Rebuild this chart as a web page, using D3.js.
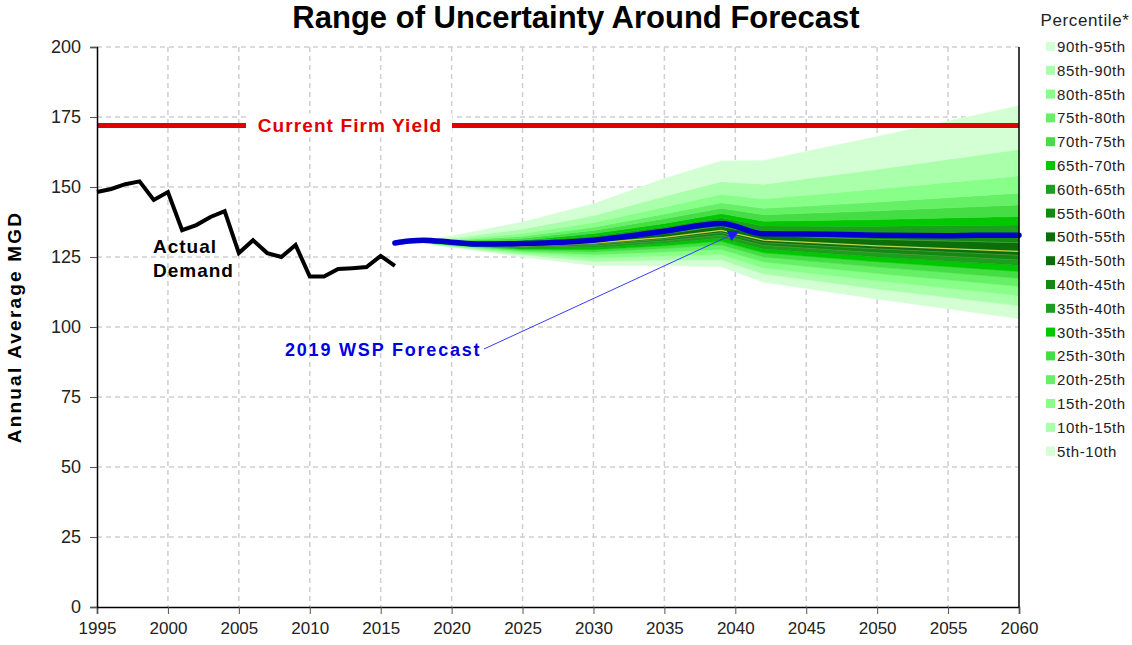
<!DOCTYPE html>
<html lang="en">
<head>
<meta charset="utf-8">
<title>Range of Uncertainty Around Forecast</title>
<script src="https://cdn.jsdelivr.net/npm/d3@7"></script>
<style>
  body { margin: 0; background: #fff; }
  svg text { font-family: "Liberation Sans", Arial, sans-serif; }
</style>
</head>
<body>
<div id="chart"></div>
<script>
// actual demand, 1995-2016
var actualYears = d3.range(1995, 2017);
var actualDemand = [148.2, 149.3, 151, 152, 145.4, 148.2, 134.6, 136.4, 139.3, 141.4, 126.4,
  131, 126.4, 125, 129.3, 118, 118, 120.7, 121, 121.4, 125.4, 121.8];

// 2019 WSP forecast
var forecastYears = [2016, 2017, 2018, 2020, 2022, 2025, 2030, 2035, 2039, 2042, 2045, 2050, 2055, 2057, 2060];
var forecastWSP = [130, 130.7, 131, 130.3, 129.6, 129.8, 131, 134.2, 137, 133.3, 133.2, 132.8, 132.6, 132.8, 132.8];

var firmYield = 172;

// percentile fan, read at these years
var fanYears = [2016, 2018, 2020, 2025, 2030, 2035, 2039, 2042, 2050, 2060];
var p05 = [130, 130.0, 128.5, 125.0, 122.0, 122.0, 121.5, 116.0, 110.0, 103.0];
var p10 = [130, 130.1, 128.7, 125.8, 123.5, 123.9, 124.0, 118.9, 113.6, 107.6];
var p15 = [130, 130.2, 128.9, 126.4, 124.7, 125.4, 125.9, 121.1, 116.5, 111.2];
var p20 = [130, 130.2, 129.1, 126.9, 125.8, 126.8, 127.7, 123.2, 119.1, 114.5];
var p25 = [130, 130.3, 129.3, 127.4, 126.8, 128.0, 129.3, 125.0, 121.4, 117.4];
var p30 = [130, 130.4, 129.4, 127.8, 127.6, 129.0, 130.6, 126.5, 123.3, 119.8];
var p35 = [130, 130.4, 129.5, 128.2, 128.3, 129.9, 131.8, 127.9, 125.0, 122.0];
var p40 = [130, 130.4, 129.6, 128.5, 129.0, 130.7, 132.8, 129.1, 126.5, 123.9];
var p45 = [130, 130.5, 129.7, 128.8, 129.5, 131.4, 133.7, 130.1, 127.9, 125.6];
var p50 = [130, 130.5, 129.8, 129.0, 130.0, 132.0, 134.5, 131.0, 129.0, 127.0];
var p55 = [130, 130.5, 130.0, 129.5, 130.8, 133.3, 136.0, 132.7, 131.3, 130.1];
var p60 = [130, 130.6, 130.1, 129.9, 131.5, 134.3, 137.2, 134.1, 133.3, 132.7];
var p65 = [130, 130.6, 130.3, 130.5, 132.5, 135.8, 139.0, 136.1, 136.0, 136.4];
var p70 = [130, 130.6, 130.4, 131.0, 133.4, 137.0, 140.5, 137.8, 138.4, 139.5];
var p75 = [130, 130.7, 130.7, 131.7, 134.5, 138.7, 142.4, 140.1, 141.5, 143.6];
var p80 = [130, 130.7, 130.9, 132.4, 135.6, 140.4, 144.4, 142.4, 144.6, 147.8];
var p85 = [130, 130.8, 131.2, 133.4, 137.3, 142.9, 147.4, 145.8, 149.3, 154.0];
var p90 = [130, 130.9, 131.7, 135.0, 139.8, 146.7, 151.9, 151.0, 156.3, 163.4];
var p95 = [130, 131.0, 132.5, 137.5, 144.0, 153.0, 159.3, 159.5, 168.0, 179.0];

var bandLabels = ["5th-10th", "10th-15th", "15th-20th", "20th-25th", "25th-30th", "30th-35th",
  "35th-40th", "40th-45th", "45th-50th", "50th-55th", "55th-60th", "60th-65th", "65th-70th",
  "70th-75th", "75th-80th", "80th-85th", "85th-90th", "90th-95th"];
var bandColors = ["#d4ffd4", "#aaffaa", "#88ff88", "#66f066", "#44dd44", "#00c800",
  "#1aa01a", "#128a12", "#0a6e0a", "#0a6e0a", "#128a12", "#1aa01a", "#00c800",
  "#44dd44", "#66f066", "#88ff88", "#aaffaa", "#d4ffd4"];

var xTicks = d3.range(1995, 2061, 5);
var yTicks = d3.range(0, 201, 25);

var W = 1132, H = 645;
var svg = d3.select("#chart").append("svg").attr("width", W).attr("height", H);

var x = d3.scaleLinear().domain([1995, 2060]).range([97, 1019]);
var y = d3.scaleLinear().domain([0, 200]).range([607, 47]);

// grid
svg.append("g").selectAll("line").data(xTicks.slice(1, -1)).enter().append("line")
  .attr("x1", d => x(d)).attr("x2", d => x(d)).attr("y1", y(200)).attr("y2", y(0))
  .attr("stroke", "#cfcfcf").attr("stroke-width", 1.5).attr("stroke-dasharray", "5,4");
svg.append("g").selectAll("line").data(yTicks.slice(1)).enter().append("line")
  .attr("x1", x(1995)).attr("x2", x(2060)).attr("y1", d => y(d)).attr("y2", d => y(d))
  .attr("stroke", "#cfcfcf").attr("stroke-width", 1.5).attr("stroke-dasharray", "5,4");

// fan bands
var pcts = [p05, p10, p15, p20, p25, p30, p35, p40, p45, p50, p55, p60, p65, p70, p75, p80, p85, p90, p95];
var area = d3.area().x(d => x(d.yr)).y0(d => y(d.lo)).y1(d => y(d.hi));
var fan = svg.append("g");
for (var i = 0; i < pcts.length - 1; i++) {
  var pts = fanYears.map((yr, j) => ({ yr: yr, lo: pcts[i][j], hi: pcts[i + 1][j] }));
  fan.append("path").datum(pts).attr("d", area).attr("fill", bandColors[i])
    .attr("stroke", bandColors[i]).attr("stroke-width", 0.5);
}
var line = d3.line().x(d => x(d[0])).y(d => y(d[1]));
// faint boundary lines in the dark core
[p40, p45, p55, p60].forEach(function (p) {
  fan.append("path").datum(fanYears.map((yr, j) => [yr, p[j]])).attr("d", line)
    .attr("fill", "none").attr("stroke", "#4f9a3f").attr("stroke-width", 0.8);
});
fan.append("path").datum(fanYears.map((yr, j) => [yr, p50[j]])).attr("d", line)
  .attr("fill", "none").attr("stroke", "#c8d24a").attr("stroke-width", 1.3);

// firm yield
svg.append("line").attr("x1", x(1995)).attr("x2", x(2060)).attr("y1", y(firmYield)).attr("y2", y(firmYield))
  .attr("stroke", "#e00000").attr("stroke-width", 5);
svg.append("rect").attr("x", 246).attr("y", y(firmYield) - 12).attr("width", 206).attr("height", 24).attr("fill", "#fff");
svg.append("text").attr("x", 350).attr("y", y(firmYield) + 7).attr("text-anchor", "middle")
  .style("font-size", "19px").style("font-weight", "bold").style("letter-spacing", "1.1px")
  .attr("fill", "#e00000").text("Current Firm Yield");

// actual demand
svg.append("path").datum(actualYears.map((yr, j) => [yr, actualDemand[j]])).attr("d", line)
  .attr("fill", "none").attr("stroke", "#000").attr("stroke-width", 4).attr("stroke-linejoin", "miter");

// forecast
svg.append("path").datum(forecastYears.map((yr, j) => [yr, forecastWSP[j]]))
  .attr("d", d3.line().x(d => x(d[0])).y(d => y(d[1])).curve(d3.curveMonotoneX))
  .attr("fill", "none").attr("stroke", "#0000cc").attr("stroke-width", 5.5).attr("stroke-linecap", "round");

// arrow to forecast
svg.append("defs").append("marker").attr("id", "ah").attr("viewBox", "0 0 10 10")
  .attr("refX", 9).attr("refY", 5).attr("markerWidth", 13).attr("markerHeight", 11)
  .attr("markerUnits", "userSpaceOnUse").attr("orient", "auto")
  .append("path").attr("d", "M0,0L10,5L0,10z").attr("fill", "#1a1aff");
svg.append("line").attr("x1", 484).attr("y1", 349).attr("x2", x(2040.2)).attr("y2", y(134))
  .attr("stroke", "#3a3aff").attr("stroke-width", 1).attr("marker-end", "url(#ah)");

// labels
svg.append("text").attr("x", 153).attr("y", 253).style("font-size", "19px").style("font-weight", "bold")
  .style("letter-spacing", "1px").text("Actual");
svg.append("text").attr("x", 153).attr("y", 277).style("font-size", "19px").style("font-weight", "bold")
  .style("letter-spacing", "1px").text("Demand");
svg.append("text").attr("x", 285).attr("y", 356).style("font-size", "18px").style("font-weight", "bold")
  .style("letter-spacing", "1.8px").attr("fill", "#0000e0").text("2019 WSP Forecast");

// axes
var xAxis = svg.append("g").attr("transform", "translate(0," + y(0) + ")")
  .call(d3.axisBottom(x).tickValues(xTicks).tickFormat(d3.format("d")).tickSize(7).tickPadding(8));
var yAxis = svg.append("g").attr("transform", "translate(" + x(1995) + ",0)")
  .call(d3.axisLeft(y).tickValues(yTicks).tickSize(7).tickPadding(9));
[xAxis, yAxis].forEach(function (g) {
  g.select(".domain").attr("stroke", "#000").attr("stroke-width", 1.5);
  g.selectAll(".tick line").attr("stroke", "#555");
  g.selectAll(".tick text").style("font-size", "18px").attr("fill", "#222")
    .style("font-family", "'Liberation Sans', Arial, sans-serif");
});
xAxis.selectAll(".tick text").style("font-size", "17px");
svg.append("line").attr("x1", x(2060)).attr("x2", x(2060)).attr("y1", y(200)).attr("y2", y(0))
  .attr("stroke", "#000").attr("stroke-width", 1.5);

svg.append("text").attr("transform", "translate(21," + y(100) + ") rotate(-90)")
  .attr("text-anchor", "middle").style("font-size", "19px").style("font-weight", "bold")
  .style("letter-spacing", "2.2px").text("Annual Average MGD");

svg.append("text").attr("x", 576).attr("y", 28).attr("text-anchor", "middle")
  .style("font-size", "31px").style("font-weight", "bold").text("Range of Uncertainty Around Forecast");

// legend
var legend = svg.append("g");
legend.append("text").attr("x", 1085).attr("y", 26).attr("text-anchor", "middle")
  .style("font-size", "17px").style("letter-spacing", "0.6px").attr("fill", "#222").text("Percentile*");
var items = legend.selectAll("g.item").data(d3.range(bandLabels.length - 1, -1, -1)).enter()
  .append("g").attr("transform", (d, k) => "translate(0," + (47 + k * 23.8) + ")");
items.append("rect").attr("x", 1046).attr("y", -5).attr("width", 9).attr("height", 9)
  .attr("fill", d => bandColors[d]);
items.append("text").attr("x", 1057).attr("y", 5).style("font-size", "15px").style("letter-spacing", "0.6px")
  .attr("fill", "#222").text(d => bandLabels[d]);
</script>
</body>
</html>
